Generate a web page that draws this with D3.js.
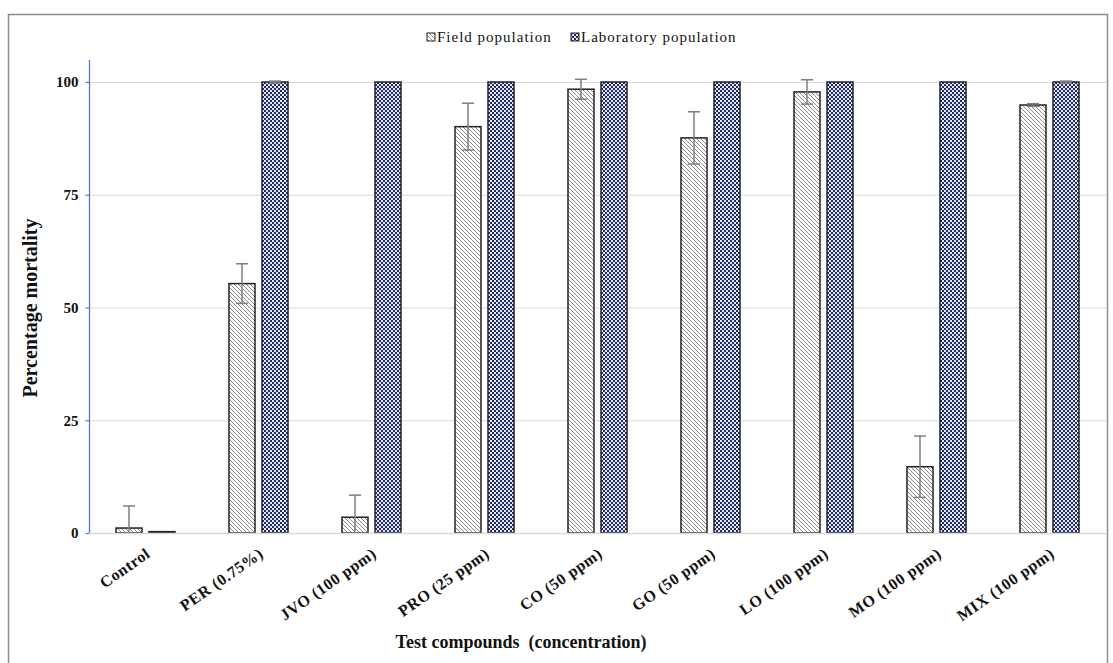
<!DOCTYPE html>
<html><head><meta charset="utf-8">
<script src="https://cdn.jsdelivr.net/npm/d3@7"></script>
<style>body{margin:0;background:#fff}svg{display:block}
svg text{font-family:'Liberation Serif','Times New Roman',Times,serif !important;}</style>
</head><body>
<svg id="c" width="1113" height="663"></svg>
<script>
const categories = ["Control","PER (0.75%)","JVO (100 ppm)","PRO (25 ppm)","CO (50 ppm)","GO (50 ppm)","LO (100 ppm)","MO (100 ppm)","MIX (100 ppm)"];
const seriesNames = ["Field population","Laboratory population"];
const fieldValues = [1.1, 55.3, 3.5, 90.1, 98.4, 87.6, 97.8, 14.7, 94.9];
const fieldErrors = [4.9, 4.4, 4.9, 5.2, 2.2, 5.8, 2.7, 6.8, 0.3];
const labValues = [0.3, 100, 100, 100, 100, 100, 100, 100, 100];
const labErrors = [0, 0.2, 0, 0, 0, 0, 0, 0, 0.2];
const yTicks = [0, 25, 50, 75, 100];

const svg = d3.select("#c");
const m = {left: 89, right: 1106, top: 82, bottom: 533};
const FONT = "'Liberation Serif','Times New Roman',Times,serif";

// outer border
svg.append("rect").attr("x", 8.5).attr("y", 14.5).attr("width", 1099).attr("height", 660)
  .attr("fill", "none").attr("stroke", "#8c8c8c").attr("stroke-width", 1.5);

const defs = svg.append("defs");
const ph = defs.append("pattern").attr("id", "hatch").attr("patternUnits", "userSpaceOnUse")
  .attr("width", 4).attr("height", 4);
ph.append("rect").attr("width", 4).attr("height", 4).attr("fill", "#fff");
ph.append("path").attr("d", "M-1,-1 L5,5 M-1,3 L1,5 M3,-1 L5,1").attr("stroke", "#8a8a8a").attr("stroke-width", 1);
const pc = defs.append("pattern").attr("id", "check").attr("patternUnits", "userSpaceOnUse")
  .attr("width", 4).attr("height", 4);
pc.append("rect").attr("width", 4).attr("height", 4).attr("fill", "#e6e9f2");
pc.append("rect").attr("width", 2).attr("height", 2).attr("fill", "#1f2a66");
pc.append("rect").attr("x", 2).attr("y", 2).attr("width", 2).attr("height", 2).attr("fill", "#1f2a66");

const y = d3.scaleLinear().domain([0, 100]).range([m.bottom, m.top]);
const x0 = d3.scaleBand().domain(categories).range([m.left, m.right]).padding(0);
const x1 = d3.scaleBand().domain(seriesNames).range([0, x0.bandwidth()]).paddingInner(0.212).paddingOuter(0.818);

// gridlines
svg.append("g").selectAll("line").data(yTicks).join("line")
  .attr("x1", m.left).attr("x2", m.right)
  .attr("y1", d => y(d) + 0.5).attr("y2", d => y(d) + 0.5)
  .attr("stroke", "#d9d9d9").attr("stroke-width", 1.2);

// y axis
const yAxis = svg.append("g").attr("transform", `translate(${m.left + 0.5},0)`)
  .call(d3.axisLeft(y).tickValues(yTicks).tickSize(4).tickPadding(7));
yAxis.attr("font-family", FONT);
yAxis.select(".domain").remove();
yAxis.selectAll(".tick line").attr("stroke", "#4a7cc9").attr("stroke-width", 1.2);
yAxis.selectAll(".tick text").attr("font-family", FONT)
  .attr("font-weight", "bold").attr("font-size", 15).attr("fill", "#111");
svg.append("line").attr("x1", m.left + 0.5).attr("x2", m.left + 0.5).attr("y1", 60).attr("y2", m.bottom + 1)
  .attr("stroke", "#4a7cc9").attr("stroke-width", 1.3);

const rows = categories.map((c, i) => ({c, s: [
  {name: seriesNames[0], v: fieldValues[i], e: fieldErrors[i], fill: "url(#hatch)"},
  {name: seriesNames[1], v: labValues[i], e: labErrors[i], fill: "url(#check)"}
]}));

const g = svg.append("g").selectAll("g").data(rows).join("g")
  .attr("transform", d => `translate(${x0(d.c)},0)`);
g.selectAll("rect").data(d => d.s).join("rect")
  .attr("x", d => x1(d.name)).attr("width", x1.bandwidth())
  .attr("y", d => y(d.v)).attr("height", d => y(0) - y(d.v))
  .attr("fill", d => d.fill).attr("stroke", "#222").attr("stroke-width", 1.5);

// error bars
const cx = d => x1(d.name) + x1.bandwidth() / 2;
const eb = g.selectAll("g.err").data(d => d.s.filter(s => s.e > 0)).join("g").attr("class", "err");
eb.append("line").attr("x1", cx).attr("x2", cx)
  .attr("y1", d => y(d.v + d.e)).attr("y2", d => y(Math.max(0, d.v - d.e)))
  .attr("stroke", "#7f7f7f").attr("stroke-width", 1.5);
eb.append("line").attr("x1", d => cx(d) - 6).attr("x2", d => cx(d) + 6)
  .attr("y1", d => y(d.v + d.e)).attr("y2", d => y(d.v + d.e))
  .attr("stroke", "#7f7f7f").attr("stroke-width", 1.5);
eb.filter(d => d.v - d.e > 0).append("line").attr("x1", d => cx(d) - 6).attr("x2", d => cx(d) + 6)
  .attr("y1", d => y(d.v - d.e)).attr("y2", d => y(d.v - d.e))
  .attr("stroke", "#7f7f7f").attr("stroke-width", 1.5);

// x axis line
svg.append("line").attr("x1", m.left).attr("x2", m.right).attr("y1", y(0) + 0.5).attr("y2", y(0) + 0.5)
  .attr("stroke", "#d9d9d9").attr("stroke-width", 1.5);

// x labels
svg.append("g").selectAll("text").data(categories).join("text")
  .attr("transform", d => `translate(${x0(d) + x0.bandwidth() / 2 + 6},${m.bottom + 23}) rotate(-35)`)
  .attr("text-anchor", "end")
  .attr("font-family", FONT).attr("letter-spacing", 0.6)
  .attr("font-weight", "bold").attr("font-size", 16).attr("fill", "#111")
  .text(d => d);

// axis titles
svg.append("text").attr("x", 521).attr("y", 648).attr("text-anchor", "middle")
  .attr("font-family", FONT).attr("font-weight", "bold")
  .attr("font-size", 18).attr("fill", "#111").attr("xml:space", "preserve").text("Test compounds  (concentration)");
svg.append("text").attr("transform", "translate(37,308) rotate(-90)").attr("text-anchor", "middle")
  .attr("font-family", FONT).attr("font-weight", "bold")
  .attr("font-size", 20).attr("fill", "#111").text("Percentage mortality");

// legend
const legend = svg.append("g");
const legItems = [{name: seriesNames[0], fill: "url(#hatch)", x: 427}, {name: seriesNames[1], fill: "url(#check)", x: 571}];
legItems.forEach(it => {
  legend.append("rect").attr("x", it.x).attr("y", 33).attr("width", 8).attr("height", 8)
    .attr("fill", it.fill).attr("stroke", "#222").attr("stroke-width", 1);
  legend.append("text").attr("x", it.x + 10).attr("y", 42)
    .attr("font-family", FONT).attr("font-size", 15).attr("letter-spacing", 1).attr("fill", "#111")
    .text(it.name);
});
</script>
</body></html>
